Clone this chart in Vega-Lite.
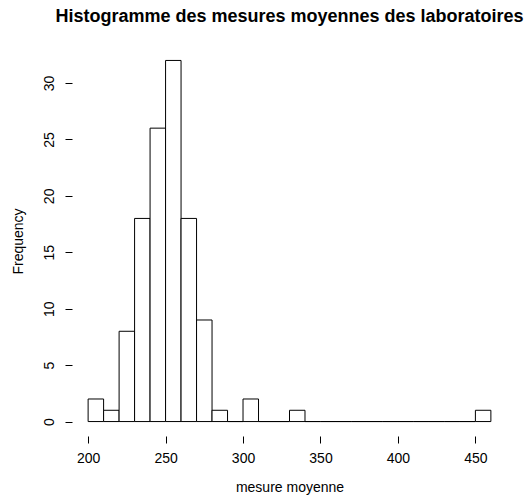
{
  "$schema": "https://vega.github.io/schema/vega-lite/v6.json",
  "width": 435,
  "height": 390,
  "autosize": {"type": "none"},
  "padding": {"left": 72, "top": 46, "right": 17, "bottom": 66},
  "background": "white",
  "title": {
    "text": "Histogramme des mesures moyennes des laboratoires",
    "font": "Liberation Sans",
    "fontSize": 18,
    "fontWeight": "bold",
    "anchor": "middle",
    "frame": "group",
    "baseline": "alphabetic",
    "offset": 6,
    "color": "black"
  },
  "config": {
    "view": {"stroke": null},
    "axis": {
      "grid": false,
      "domain": false,
      "labelFont": "Liberation Sans",
      "titleFont": "Liberation Sans",
      "labelFontSize": 14,
      "titleFontSize": 14,
      "labelColor": "black",
      "titleColor": "black",
      "titleFontWeight": "normal",
      "tickColor": "black",
      "tickSize": 7
    }
  },
  "layer": [
    {
      "data": {
        "values": [
          {"start": 200, "end": 210, "count": 2},
          {"start": 210, "end": 220, "count": 1},
          {"start": 220, "end": 230, "count": 8},
          {"start": 230, "end": 240, "count": 18},
          {"start": 240, "end": 250, "count": 26},
          {"start": 250, "end": 260, "count": 32},
          {"start": 260, "end": 270, "count": 18},
          {"start": 270, "end": 280, "count": 9},
          {"start": 280, "end": 290, "count": 1},
          {"start": 290, "end": 300, "count": 0},
          {"start": 300, "end": 310, "count": 2},
          {"start": 310, "end": 320, "count": 0},
          {"start": 320, "end": 330, "count": 0},
          {"start": 330, "end": 340, "count": 1},
          {"start": 340, "end": 350, "count": 0},
          {"start": 350, "end": 360, "count": 0},
          {"start": 360, "end": 370, "count": 0},
          {"start": 370, "end": 380, "count": 0},
          {"start": 380, "end": 390, "count": 0},
          {"start": 390, "end": 400, "count": 0},
          {"start": 400, "end": 410, "count": 0},
          {"start": 410, "end": 420, "count": 0},
          {"start": 420, "end": 430, "count": 0},
          {"start": 430, "end": 440, "count": 0},
          {"start": 440, "end": 450, "count": 0},
          {"start": 450, "end": 460, "count": 1}
        ]
      },
      "mark": {"type": "rect", "fill": "white", "stroke": "black", "strokeWidth": 1},
      "encoding": {
        "x": {
          "field": "start",
          "type": "quantitative",
          "scale": {"domain": [189.6, 470.4], "nice": false, "zero": false},
          "axis": {
            "values": [200, 250, 300, 350, 400, 450],
            "title": "mesure moyenne",
            "labelPadding": 8,
            "titlePadding": 15
          }
        },
        "x2": {"field": "end"},
        "y": {
          "field": "count",
          "type": "quantitative",
          "scale": {"domain": [-1.28, 33.28], "nice": false, "zero": false},
          "axis": {
            "values": [0, 5, 10, 15, 20, 25, 30],
            "title": "Frequency",
            "labelAngle": -90,
            "labelAlign": "center",
            "labelBaseline": "alphabetic",
            "labelPadding": 12,
            "titlePadding": 17
          }
        },
        "y2": {"datum": 0}
      }
    },
    {
      "mark": {"type": "rule", "color": "black", "strokeWidth": 1},
      "encoding": {
        "x": {"datum": 200},
        "x2": {"datum": 450},
        "y": {"datum": -1.28}
      }
    },
    {
      "mark": {"type": "rule", "color": "black", "strokeWidth": 1},
      "encoding": {
        "x": {"datum": 189.6},
        "y": {"datum": 0},
        "y2": {"datum": 30}
      }
    }
  ]
}
